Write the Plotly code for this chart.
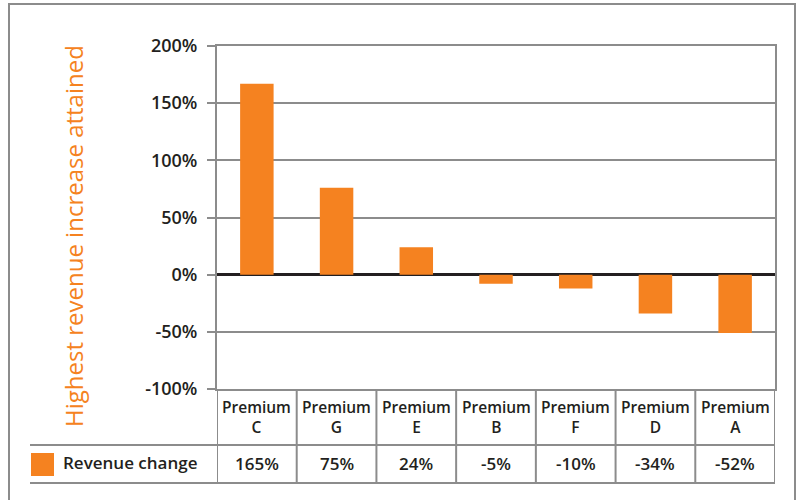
import plotly.graph_objects as go

# ---- data ----
categories = ["Premium C", "Premium G", "Premium E", "Premium B", "Premium F", "Premium D", "Premium A"]
category_lines = [["Premium", "C"], ["Premium", "G"], ["Premium", "E"], ["Premium", "B"],
                  ["Premium", "F"], ["Premium", "D"], ["Premium", "A"]]
bar_values = [167, 76, 24, -8, -12, -34, -51]          # as drawn by the bars
table_values = [165, 75, 24, -5, -10, -34, -52]        # as printed in the data table
series_name = "Revenue change"
y_title = "Highest revenue increase attained"
y_ticks = [-100, -50, 0, 50, 100, 150, 200]
y_ticklabels = ["-100%", "-50%", "0%", "50%", "100%", "150%", "200%"]

ORANGE = "#f58220"
GRAY = "#8c8c8c"
DARK = "#231f20"
FONT = "Open Sans"

W, H = 801, 500
L, R, T, B = 217, 775, 46, 389


def px(xp):
    return (xp - L) / (R - L)


def py(yp):
    return (B - yp) / (B - T)


fig = go.Figure()
fig.add_trace(go.Bar(
    x=list(range(len(categories))), y=bar_values, name=series_name,
    marker=dict(color=ORANGE, line=dict(width=0)),
    hovertext=categories, showlegend=False,
))

shapes = []
annotations = []

# outer frame
shapes.append(dict(type="rect", xref="paper", yref="paper",
                   x0=px(9), x1=px(795), y0=py(520), y1=py(4),
                   line=dict(color=GRAY, width=2), layer="below"))

# data table horizontal lines
for yline in (445, 483):
    shapes.append(dict(type="line", xref="paper", yref="paper",
                       x0=px(30), x1=1, y0=py(yline), y1=py(yline),
                       line=dict(color=GRAY, width=2)))
# vertical dividers at category boundaries
for i in range(len(categories) + 1):
    shapes.append(dict(type="line", xref="x", yref="paper",
                       x0=i - 0.5, x1=i - 0.5, y0=0, y1=py(483),
                       line=dict(color=GRAY, width=2)))

# legend key in the table
shapes.append(dict(type="rect", xref="paper", yref="paper",
                   x0=px(31), x1=px(54), y0=py(476), y1=py(453),
                   fillcolor=ORANGE, line=dict(width=0)))
annotations.append(dict(text=series_name, xref="paper", yref="paper",
                        x=px(61), y=py(462), xanchor="left", yanchor="middle",
                        showarrow=False, font=dict(family=FONT, size=17, color=DARK, weight=560)))

# category labels and values
for i, (lines, v) in enumerate(zip(category_lines, table_values)):
    annotations.append(dict(text="<br>".join(lines), xref="x", yref="paper",
                            x=i, y=py(417), xanchor="center", yanchor="middle",
                            showarrow=False,
                            font=dict(family=FONT, size=15.5, color=DARK, weight=560)))
    annotations.append(dict(text=f"{v}%", xref="x", yref="paper",
                            x=i, y=py(463), xanchor="center", yanchor="middle",
                            showarrow=False,
                            font=dict(family=FONT, size=17, color=DARK, weight=560)))

# y axis title
annotations.append(dict(text=y_title, xref="paper", yref="paper",
                        x=px(73), y=py(236), xanchor="center", yanchor="middle",
                        textangle=-90, showarrow=False,
                        font=dict(family=FONT, size=24, color=ORANGE)))

fig.update_layout(
    width=W, height=H,
    margin=dict(l=L, r=W - R, t=T, b=H - B),
    paper_bgcolor="white", plot_bgcolor="white",
    bargap=0.58,
    showlegend=False,
    shapes=shapes, annotations=annotations,
    xaxis=dict(range=[-0.5, len(categories) - 0.5], showticklabels=False,
               showgrid=False, zeroline=False, ticks="",
               showline=True, linecolor=GRAY, linewidth=2, mirror=True, fixedrange=True),
    yaxis=dict(range=[-100, 200], tickvals=y_ticks, ticktext=y_ticklabels,
               showgrid=True, gridcolor=GRAY, gridwidth=2,
               zeroline=True, zerolinecolor=DARK, zerolinewidth=3,
               ticks="outside", ticklen=8, tickcolor=GRAY, tickwidth=2,
               ticklabelstandoff=6,
               tickfont=dict(family=FONT, size=18, color=DARK, weight=600),
               showline=True, linecolor=GRAY, linewidth=2, mirror=True, fixedrange=True),
    font=dict(family=FONT),
)

fig.write_html("out.html")
